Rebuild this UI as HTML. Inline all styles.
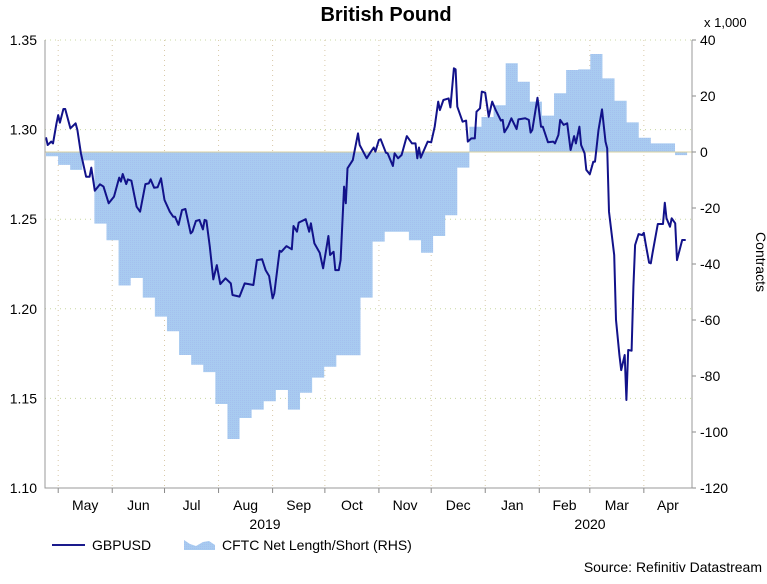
<!DOCTYPE html>
<html><head><meta charset="utf-8"><style>
body{margin:0;background:#fff;width:767px;height:584px;overflow:hidden}
svg{display:block;font-family:"Liberation Sans",Arial,sans-serif}
</style></head><body>
<svg id="chart" width="767" height="584">
<defs>
<pattern id="dots" width="2" height="2" patternUnits="userSpaceOnUse">
<rect width="2" height="2" fill="#a8cbf0"/><rect width="1" height="1" fill="#a4c0ee"/>
</pattern>
</defs>
<text x="386" y="21" text-anchor="middle" font-size="20" font-weight="bold">British Pound</text>
<text x="704" y="27" font-size="13">x 1,000</text>
<text transform="translate(756,262) rotate(90)" text-anchor="middle" font-size="14">Contracts</text>
<g id="grid"></g>
<g id="area"></g>
<g id="line"></g>
<g id="axes"></g>
<g>
<line x1="52" y1="545" x2="85" y2="545" stroke="#1a1a8c" stroke-width="2"/>
<text x="92" y="550" font-size="14">GBPUSD</text>
<path d="M184 550 L184 540 L190 544 L196 546 L203 542 L209 541 L215 545 L215 550 Z" fill="url(#dots)"/>
<text x="222" y="550" font-size="14">CFTC Net Length/Short (RHS)</text>
</g>
<text x="762" y="572" text-anchor="end" font-size="14">Source: Refinitiv Datastream</text>
</svg>
<script>
// CFTC weekly net positions (thousands of contracts), starting week of Apr 24 2019
const cftcValues=[-1.5,-4.6,-6.4,-3,-25.6,-31.5,-47.7,-45,-52,-58.8,-64,-72.5,-76,-78.6,-90,-102.5,-95,-92,-89,-85,-92,-86,-80.6,-76.7,-72.6,-72.6,-52,-32,-28.5,-28.5,-31.5,-36,-30,-22.6,-5.6,9,12.5,16.7,31.7,25.1,18,13,21,29.3,29.5,35,26.3,18.3,10.6,5.1,3.1,3.1,-1.1];
// GBPUSD: days since Apr 24 2019 and rate
const fxDays=[0,1,3,4,6,7,8,10,11,14,17,18,20,23,25,26,28,31,33,36,39,42,43,44,46,47,49,52,54,57,59,60,62,64,66,68,71,73,74,76,78,80,83,84,86,88,90,91,92,94,96,98,100,103,106,107,111,114,119,121,124,126,128,130,131,134,135,138,141,142,144,145,149,151,152,154,157,159,162,163,165,166,168,169,171,172,173,176,179,180,184,186,188,189,191,192,195,196,199,200,202,204,207,210,212,213,214,215,219,221,223,225,226,228,231,232,234,235,236,239,241,242,244,246,247,249,250,252,254,256,258,261,262,263,265,267,270,271,275,277,278,279,282,284,285,288,291,292,294,295,297,299,301,303,304,306,307,309,310,312,314,315,317,319,321,322,323,326,327,329,330,332,333,334,336,337,338,340,342,343,344,346,347,348,351,354,355,356,358,359,361,362,365,367];
const fxValues=[1.2957,1.2914,1.2933,1.2923,1.3035,1.3081,1.3039,1.3115,1.3115,1.3007,1.3035,1.2998,1.2868,1.2737,1.2737,1.2788,1.2659,1.2695,1.2682,1.2589,1.2626,1.2732,1.271,1.2752,1.2696,1.2722,1.2715,1.257,1.2542,1.2696,1.27,1.2722,1.2676,1.2678,1.2728,1.2607,1.2542,1.2514,1.2514,1.2468,1.2551,1.2557,1.2421,1.243,1.249,1.2496,1.2443,1.2496,1.2492,1.2347,1.2164,1.2244,1.2138,1.217,1.2142,1.2077,1.2068,1.2142,1.2133,1.2272,1.2276,1.2216,1.2183,1.2058,1.2086,1.2324,1.2318,1.235,1.2332,1.2462,1.243,1.2481,1.25,1.243,1.2477,1.2365,1.2313,1.2226,1.2406,1.23,1.2318,1.2216,1.2216,1.2272,1.2682,1.2589,1.2784,1.283,1.2979,1.2914,1.284,1.2871,1.29,1.2877,1.2942,1.2946,1.2871,1.2868,1.2797,1.2868,1.284,1.2858,1.2964,1.2923,1.2923,1.284,1.29,1.2843,1.2933,1.2929,1.3016,1.3156,1.3109,1.3165,1.3174,1.3124,1.3342,1.3336,1.3128,1.3044,1.305,1.2933,1.2951,1.2951,1.31,1.3119,1.3212,1.3206,1.3072,1.3156,1.3109,1.305,1.3054,1.2985,1.3016,1.3063,1.3003,1.3057,1.3063,1.3054,1.2983,1.2998,1.3178,1.3016,1.3016,1.2929,1.2933,1.2923,1.297,1.3054,1.3026,1.3035,1.2886,1.2964,1.2923,1.3016,1.2914,1.2868,1.2775,1.2751,1.2821,1.2821,1.2998,1.3113,1.2933,1.2895,1.2542,1.23,1.1938,1.1742,1.1658,1.1742,1.1491,1.177,1.1766,1.2123,1.2356,1.2417,1.2411,1.2424,1.2365,1.2257,1.2254,1.2313,1.2473,1.2473,1.2592,1.2505,1.2458,1.2505,1.2477,1.2272,1.2384,1.2384];
const monthLabels=["May","Jun","Jul","Aug","Sep","Oct","Nov","Dec","Jan","Feb","Mar","Apr"];
const monthDays=[7,38,68,99,130,160,191,221,252,283,312,343,373];
const leftTicks=[1.10,1.15,1.20,1.25,1.30,1.35];
const rightTicks=[-120,-100,-80,-60,-40,-20,0,20,40];

const X0=46,PX=1.743,L=45,R=692,T=40,B=488;
const xs=d=>X0+d*PX;
const yL=v=>T+(1.35-v)/0.25*(B-T);
const yR=v=>T+(40-v)/160*(B-T);
const NS="http://www.w3.org/2000/svg";
function mk(tag,attrs,parent){const e=document.createElementNS(NS,tag);for(const k in attrs)e.setAttribute(k,attrs[k]);parent.appendChild(e);return e;}
const grid=document.getElementById('grid'),area=document.getElementById('area'),lineG=document.getElementById('line'),axes=document.getElementById('axes');

leftTicks.forEach(v=>{
 const y=yL(v);
 if(v>1.10){const g=mk('line',{x1:L,x2:R,y1:y,y2:y,stroke:'#c8d8a0','stroke-dasharray':'1 4'},grid);
 
 }
 const t=mk('text',{x:37,y:y+5,'text-anchor':'end','font-size':14},axes);t.textContent=v.toFixed(2);
 
 
});
for(let i=0;i<monthDays.length-1;i++){
 const x=xs(monthDays[i]);
 const g=mk('line',{x1:x,x2:x,y1:T,y2:B,stroke:'#d8c8a8','stroke-dasharray':'1 4'},grid);
 
 
 mk('line',{x1:x,x2:x,y1:B,y2:B+5,stroke:'#888'},axes);
 const cx=(xs(monthDays[i])+Math.min(xs(monthDays[i+1]),R))/2;
 const t=mk('text',{x:cx,y:510,'text-anchor':'middle','font-size':14},axes);t.textContent=monthLabels[i];
 
 
}
rightTicks.forEach(v=>{
 const y=yR(v);
 mk('line',{x1:R,x2:R+4,y1:y,y2:y,stroke:'#888'},axes);
 const t=mk('text',{x:R+8,y:y+5,'font-size':14},axes);t.textContent=v;
 
 
});
[["2019",265],["2020",590]].forEach(a=>{const t=mk('text',{x:a[1],y:529,'text-anchor':'middle','font-size':14},axes);t.textContent=a[0];
 
 });
mk('path',{d:`M${L} ${T} V${B} H${R} V${T}`,fill:'none',stroke:'#999'},axes);

const STEP=6.94;
let d=`M${xs(0)} ${yR(0)}`;
cftcValues.forEach((v,i)=>{d+=` V${yR(v)} H${xs((i+1)*STEP)}`;});
d+=` V${yR(0)} Z`;
const ar=mk('path',{d:d,fill:'url(#dots)'},area);


const zl=mk('line',{x1:L,x2:R,y1:yR(0),y2:yR(0),stroke:'#d8d0a0','stroke-width':1},area);



let p='';fxDays.forEach((dd,i)=>{p+=(i?'L':'M')+xs(dd).toFixed(1)+' '+yL(fxValues[i]).toFixed(1)+' ';});
const ln=mk('path',{d:p,fill:'none',stroke:'#12128a','stroke-width':2,'stroke-linejoin':'round'},lineG);


</script>
</body></html>
